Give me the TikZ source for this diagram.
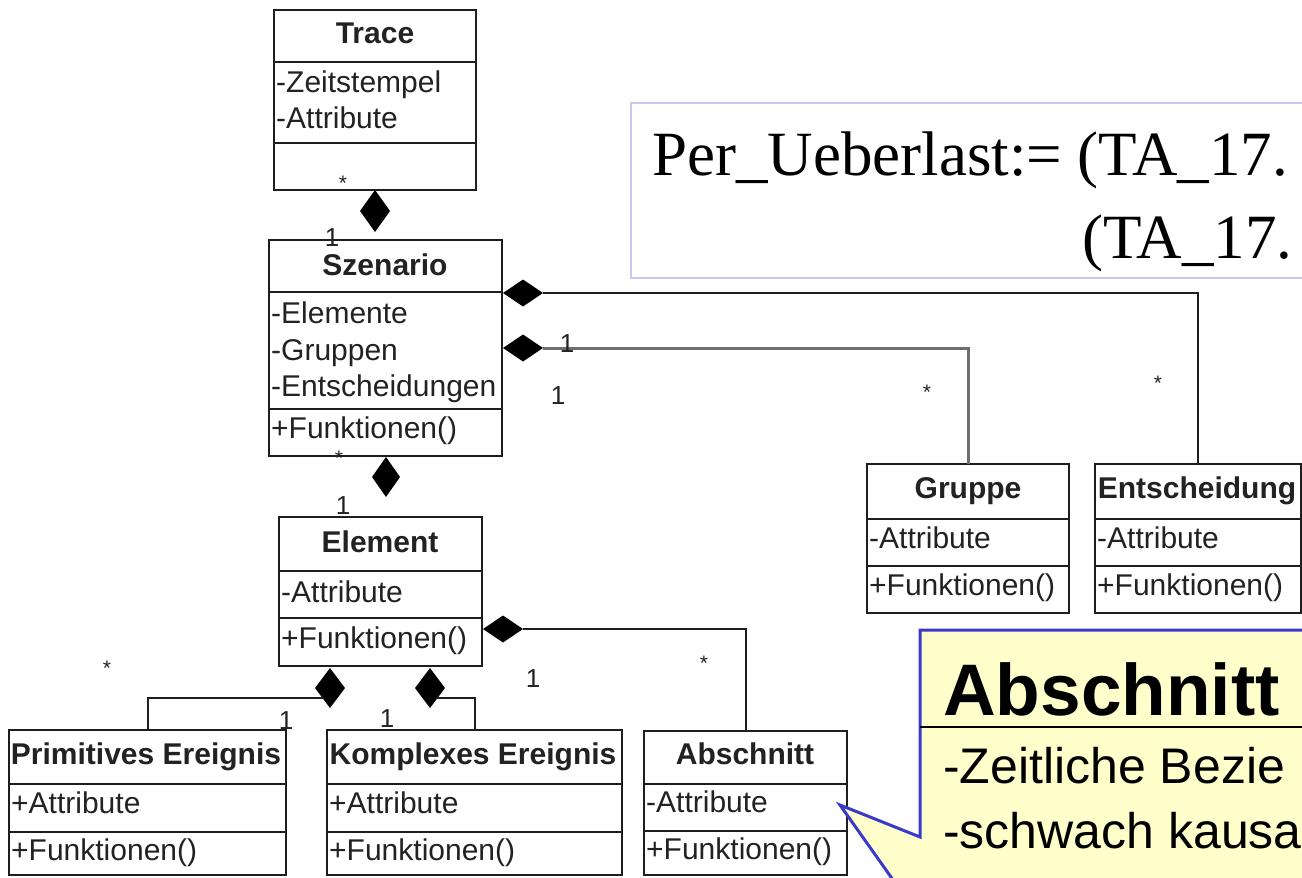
\documentclass[tikz,border=0pt]{standalone}
\usepackage{fontspec}
\setmainfont{Liberation Sans}
\newfontfamily\timesfont{Liberation Serif}
\usetikzlibrary{shapes.geometric,calc}

\definecolor{umlline}{HTML}{1E1E1E}
\definecolor{umltextc}{HTML}{222222}
\definecolor{grpline}{HTML}{6E6E6E}
\definecolor{notefill}{HTML}{FFFFCC}
\definecolor{noteline}{HTML}{3A3AC8}
\definecolor{exprline}{HTML}{C8C8F0}

\newcommand\umlfont{\fontsize{30}{36}\selectfont}
\newcommand\umlboldfont{\fontsize{30}{36}\selectfont\bfseries}
\newcommand\multfont{\fontsize{26}{30}\selectfont}
\newcommand\starfont{\fontsize{21}{25}\selectfont}

\tikzset{
  umlbox/.style={draw=umlline, line width=2pt, inner sep=0pt, outer sep=0pt, anchor=north west},
  umlsep/.style={draw=umlline, line width=2pt},
  umltitle/.style={font=\umlboldfont, text=umltextc, anchor=base, inner sep=0pt},
  umltext/.style={font=\umlfont, text=umltextc, anchor=base west, inner sep=0pt},
  mult/.style={font=\multfont, text=umltextc, anchor=base, inner sep=0pt},
  many/.style={font=\starfont, text=umltextc, anchor=base, inner sep=0pt},
  comp/.style={diamond, fill=black, draw=none, inner sep=0pt, outer sep=0pt},
  conn/.style={draw=umlline, line width=2pt},
  grpconn/.style={draw=grpline, line width=3pt},
}

\begin{document}
\begin{tikzpicture}[x=1pt, y=-1pt]
\useasboundingbox (0,0) rectangle (1302,878);
\clip (0,0) rectangle (1302,878);
\fill[white] (0,0) rectangle (1302,878);

% expression box
\node[draw=exprline, line width=2pt, fill=white, anchor=north west, inner sep=0pt,
      minimum width=700pt, minimum height=175pt] (expr) at (630,102) {};
\node[font=\timesfont\fontsize{63}{70}\selectfont, anchor=base west, inner sep=0pt]
  (expr1) at (652,175) {Per\_Ueberlast:= (TA\_17.};
\node[font=\timesfont\fontsize{63}{70}\selectfont, anchor=base west, inner sep=0pt]
  (expr2) at (1082,258) {(TA\_17.};

% class boxes
\node[umlbox, minimum width=202pt, minimum height=180pt] (trace) at (274,10) {};
\node[umlbox, minimum width=233pt, minimum height=216pt] (szenario) at (269,240) {};
\node[umlbox, minimum width=203pt, minimum height=149pt] (element) at (279,517) {};
\node[umlbox, minimum width=202pt, minimum height=149pt] (gruppe) at (867,464) {};
\node[umlbox, minimum width=206pt, minimum height=149pt] (entsch) at (1095,464) {};
\node[umlbox, minimum width=277pt, minimum height=145pt] (prim) at (9,730) {};
\node[umlbox, minimum width=295pt, minimum height=145pt] (komplex) at (327,730) {};
\node[umlbox, minimum width=203pt, minimum height=144pt] (abschnitt) at (644,731) {};

% compartment separators
\draw[umlsep] (274,62) -- (476,62) (274,143) -- (476,143);
\draw[umlsep] (269,292) -- (502,292) (269,409) -- (502,409);
\draw[umlsep] (279,571) -- (482,571) (279,618) -- (482,618);
\draw[umlsep] (867,519) -- (1069,519) (867,566) -- (1069,566);
\draw[umlsep] (1095,519) -- (1301,519) (1095,566) -- (1301,566);
\draw[umlsep] (9,784) -- (286,784) (9,832) -- (286,832);
\draw[umlsep] (327,784) -- (622,784) (327,832) -- (622,832);
\draw[umlsep] (644,784) -- (847,784) (644,831) -- (847,831);

% class texts
\node[umltitle] (traceT) at (375,43) {Trace};
\node[umltext] (traceA1) at (276,92) {-Zeitstempel};
\node[umltext] (traceA2) at (276,128) {-Attribute};

\node[umltitle] (szT) at (385,275) {Szenario};
\node[umltext] (szA1) at (271,323) {-Elemente};
\node[umltext] (szA2) at (271,360) {-Gruppen};
\node[umltext] (szA3) at (271,396) {-Entscheidungen};
\node[umltext] (szF) at (271,438) {+Funktionen()};

\node[umltitle] (elT) at (380,552) {Element};
\node[umltext] (elA) at (281,602) {-Attribute};
\node[umltext] (elF) at (281,648) {+Funktionen()};

\node[umltitle] (grT) at (968,498) {Gruppe};
\node[umltext] (grA) at (869,548) {-Attribute};
\node[umltext] (grF) at (869,595) {+Funktionen()};

\node[umltitle] (enT) at (1197,498) {Entscheidung};
\node[umltext] (enA) at (1097,548) {-Attribute};
\node[umltext] (enF) at (1097,595) {+Funktionen()};

\node[umltitle] (prT) at (146,764) {Primitives Ereignis};
\node[umltext] (prA) at (11,813) {+Attribute};
\node[umltext] (prF) at (11,860) {+Funktionen()};

\node[umltitle] (koT) at (473,764) {Komplexes Ereignis};
\node[umltext] (koA) at (329,813) {+Attribute};
\node[umltext] (koF) at (329,860) {+Funktionen()};

\node[umltitle] (abT) at (745,764) {Abschnitt};
\node[umltext] (abA) at (646,812) {-Attribute};
\node[umltext] (abF) at (646,859) {+Funktionen()};

% composition diamonds
\node[comp, minimum width=30pt, minimum height=42pt] (d1) at (375,211) {};
\node[comp, minimum width=28pt, minimum height=40pt] (d2) at (386,477) {};
\node[comp, minimum width=40pt, minimum height=27pt] (d3) at (523,293) {};
\node[comp, minimum width=40pt, minimum height=27pt] (d4) at (523,348) {};
\node[comp, minimum width=40pt, minimum height=27pt] (d5) at (503,629) {};
\node[comp, minimum width=30pt, minimum height=40pt] (d6) at (330,688) {};
\node[comp, minimum width=30pt, minimum height=40pt] (d7) at (430,688) {};

% composition links
\draw[conn] ($(d1.center)+(12,4)$) -- ($(d1.center)+(12,4)$ |- szenario.north);
\draw[conn] ($(d2.center)+(-6,8)$) -- ($(d2.center)+(-6,8)$ |- element.north);
\draw[conn] (d3.east) -| (entsch.north);
\draw[grpconn] (d4.east) -| (gruppe.north);
\draw[conn] (d5.east) -| (abschnitt.north);
\draw[conn] ($(d6.center)+(-6,10)$) -| (prim.north);
\draw[conn] ($(d7.center)+(6,10)$) -| (komplex.north);

% multiplicities
\node[many] (m1) at (343,190) {*};
\node[mult] (m2) at (332,246) {1};
\node[many] (m3) at (339,465) {*};
\node[mult] (m4) at (343,514) {1};
\node[mult] (m5) at (567,352) {1};
\node[mult] (m6) at (558,404) {1};
\node[many] (m7) at (927,399) {*};
\node[many] (m8) at (1158,390) {*};
\node[many] (m9) at (107,675) {*};
\node[mult] (m10) at (286,729) {1};
\node[mult] (m11) at (387,727) {1};
\node[mult] (m12) at (533,687) {1};
\node[many] (m13) at (704,670) {*};

% note callout pointing at the Abschnitt class
\coordinate (tip) at (840,805);
\draw[fill=notefill, draw=noteline, line width=3pt, line join=miter]
  (920,918) -- (tip) -- (920,837) -- (920,630) -- (1340,630) -- (1340,1000) -- (920,1000) -- cycle;
\draw[black, line width=2pt] (920,727) -- (1340,727);
\node[font=\fontsize{73}{80}\selectfont\bfseries, anchor=base west, inner sep=0pt]
  (noteT) at (943,715) {Abschnitt};
\node[font=\fontsize{50}{60}\selectfont, anchor=base west, inner sep=0pt]
  (noteL1) at (943,783) {-Zeitliche Bezie};
\node[font=\fontsize{50}{60}\selectfont, anchor=base west, inner sep=0pt]
  (noteL2) at (943,848) {-schwach kausa};
\end{tikzpicture}
\end{document}
